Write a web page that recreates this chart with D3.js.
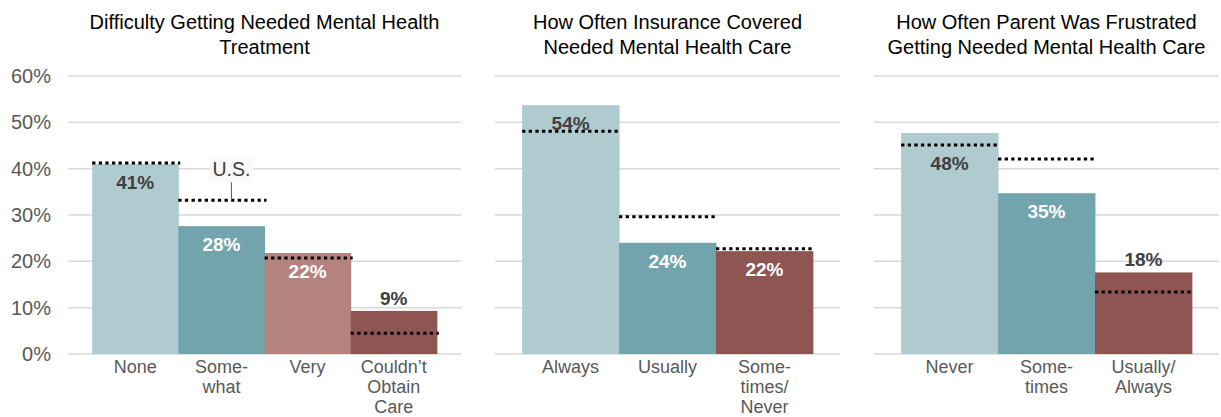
<!DOCTYPE html>
<html>
<head>
<meta charset="utf-8">
<script src="https://cdn.jsdelivr.net/npm/d3@7"></script>
<style>
  body { margin: 0; background: #fff; }
  svg text { font-family: Arial, "Liberation Sans", sans-serif; }
</style>
</head>
<body>
<div id="chart"></div>
<script>
// chart data, one set of arrays per panel
const titles = [
  ["Difficulty Getting Needed Mental Health", "Treatment"],
  ["How Often Insurance Covered", "Needed Mental Health Care"],
  ["How Often Parent Was Frustrated", "Getting Needed Mental Health Care"]
];
const categories1 = [["None"], ["Some-", "what"], ["Very"], ["Couldn\u2019t", "Obtain", "Care"]];
const categories2 = [["Always"], ["Usually"], ["Some-", "times/", "Never"]];
const categories3 = [["Never"], ["Some-", "times"], ["Usually/", "Always"]];
const state1 = [0.41, 0.276, 0.218, 0.093];
const state2 = [0.537, 0.24, 0.222];
const state3 = [0.477, 0.347, 0.176];
const us1 = [0.412, 0.332, 0.207, 0.045];
const us2 = [0.481, 0.296, 0.227];
const us3 = [0.451, 0.421, 0.134];
const yTicks = [0, 0.1, 0.2, 0.3, 0.4, 0.5, 0.6];

const width = 1221;
const height = 417;

const light = "#afcbcf", teal = "#72a4ad", pink = "#b5837e", dark = "#8e5553";
const panels = [
  {title: titles[0], cats: categories1, vals: state1, us: us1, colors: [light, teal, pink, dark], range: [68, 461]},
  {title: titles[1], cats: categories2, vals: state2, us: us2, colors: [light, teal, dark], range: [495, 840]},
  {title: titles[2], cats: categories3, vals: state3, us: us3, colors: [light, teal, dark], range: [874, 1219]}
];

const svg = d3.select("#chart")
  .append("svg")
  .attr("width", width)
  .attr("height", height);

const y = d3.scaleLinear()
  .domain([0, 0.6])
  .range([354, 76]);

const fmt = d3.format(".0%");

// y tick labels only on the first panel
svg.append("g")
  .selectAll("text")
  .data(yTicks)
  .enter()
  .append("text")
  .attr("x", 51)
  .attr("y", d => y(d) + 7)
  .attr("text-anchor", "end")
  .style("font-size", "20px")
  .style("fill", "#595959")
  .text(d => fmt(d));

panels.forEach((p, pi) => {
  const g = svg.append("g");
  const n = p.vals.length;
  const x = d3.scaleBand()
    .domain(d3.range(n))
    .range(p.range)
    .paddingInner(0)
    .paddingOuter(0.28);
  const cx = (p.range[0] + p.range[1]) / 2;

  // gridlines
  g.selectAll("line.grid")
    .data(yTicks)
    .enter()
    .append("line")
    .attr("x1", p.range[0])
    .attr("x2", p.range[1])
    .attr("y1", d => y(d))
    .attr("y2", d => y(d))
    .attr("stroke", "#d9d9d9")
    .attr("stroke-width", 1.5);

  // title
  g.append("text")
    .attr("text-anchor", "middle")
    .style("font-size", "20px")
    .style("fill", "#000")
    .selectAll("tspan")
    .data(p.title)
    .enter()
    .append("tspan")
    .attr("x", cx)
    .attr("y", (d, i) => 29 + i * 25)
    .text(d => d);

  // bars
  g.selectAll("rect")
    .data(p.vals)
    .enter()
    .append("rect")
    .attr("x", (d, i) => x(i))
    .attr("width", x.bandwidth() + 0.5)
    .attr("y", d => y(d))
    .attr("height", d => y(0) - y(d))
    .attr("fill", (d, i) => p.colors[i]);

  // U.S. dotted reference lines
  g.selectAll("line.us")
    .data(p.us)
    .enter()
    .append("line")
    .attr("x1", (d, i) => x(i))
    .attr("x2", (d, i) => x(i) + x.bandwidth() + 2)
    .attr("y1", d => y(d))
    .attr("y2", d => y(d))
    .attr("stroke", "#000")
    .attr("stroke-width", 3)
    .attr("stroke-dasharray", "3.3,3.3");

  // value labels: above short bars, inside otherwise, pushed below a close US line
  g.selectAll("text.val")
    .data(p.vals)
    .enter()
    .append("text")
    .attr("text-anchor", "middle")
    .attr("x", (d, i) => x(i) + x.bandwidth() / 2)
    .attr("y", (d, i) => {
      const top = y(d);
      if (d < 0.2) return top - 13 + 7;
      const gap = y(p.us[i]) - top;
      const c = (gap > 8 && gap < 20) ? y(p.us[i]) + 18 : top + 18;
      return c + 7;
    })
    .style("font-size", "19px")
    .style("font-weight", "bold")
    .style("fill", (d, i) => (d < 0.2 || p.colors[i] === light) ? "#404040" : "#fff")
    .text(d => fmt(d));

  // category labels
  p.cats.forEach((lines, i) => {
    g.append("text")
      .attr("text-anchor", "middle")
      .style("font-size", "18px")
      .style("fill", "#595959")
      .selectAll("tspan")
      .data(lines)
      .enter()
      .append("tspan")
      .attr("x", x(i) + x.bandwidth() / 2)
      .attr("y", (d, j) => 373 + j * 20)
      .text(d => d);
  });

  // "U.S." callout on the first panel
  if (pi === 0) {
    const ax = x(1) + x.bandwidth() / 2 + 10;
    const ly = y(p.us[1]);
    g.append("line")
      .attr("x1", ax).attr("x2", ax)
      .attr("y1", ly - 18).attr("y2", ly)
      .attr("stroke", "#595959")
      .attr("stroke-width", 1);
    g.append("rect")
      .attr("x", ax - 22).attr("y", ly - 43)
      .attr("width", 44).attr("height", 25)
      .attr("fill", "#fafafa");
    g.append("text")
      .attr("x", ax)
      .attr("y", ly - 24)
      .attr("text-anchor", "middle")
      .style("font-size", "19.5px")
      .style("fill", "#404040")
      .text("U.S.");
  }
});
</script>
</body>
</html>
